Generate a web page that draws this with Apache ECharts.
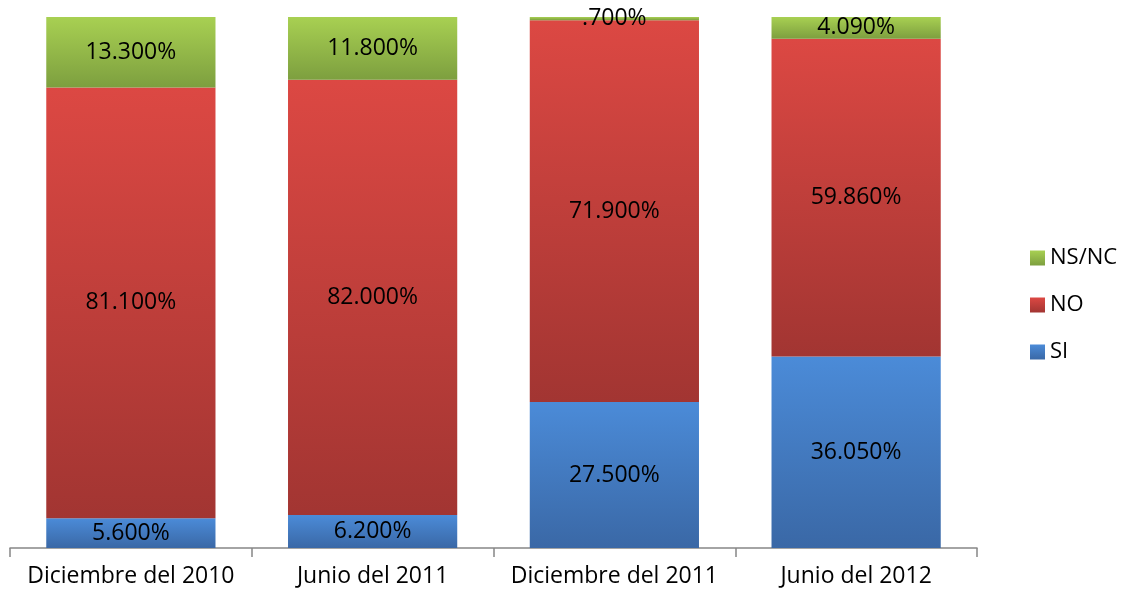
<!DOCTYPE html>
<html>
<head>
<meta charset="utf-8">
<script src="https://cdn.jsdelivr.net/npm/echarts@6/dist/echarts.min.js"></script>
<style>
html, body { margin: 0; padding: 0; background: #fff; }
#chart-0 { width: 1123px; height: 594px; }
</style>
</head>
<body>
<div id="chart-0"></div>
<script>
var categories = ['Diciembre del 2010', 'Junio del 2011', 'Diciembre del 2011', 'Junio del 2012'];
var siValues = [5.6, 6.2, 27.5, 36.05];
var noValues = [81.1, 82.0, 71.9, 59.86];
var nsncValues = [13.3, 11.8, 0.7, 4.09];

var chart = echarts.init(document.getElementById('chart-0'));

function grad(top, bottom) {
    return new echarts.graphic.LinearGradient(0, 0, 0, 1, [
        { offset: 0, color: top },
        { offset: 1, color: bottom }
    ]);
}

function pct(p) {
    return p.value.toFixed(3).replace(/^0\./, '.') + '%';
}

var labelStyle = {
    show: true,
    position: 'inside',
    formatter: pct,
    fontSize: 23,
    color: '#000',
    fontFamily: 'Open Sans'
};

var SeriesItem = function(name, data, top, bottom) {
    return {
        name: name,
        type: 'bar',
        stack: 'total',
        barCategoryGap: '30%',
        data: data,
        itemStyle: { color: grad(top, bottom) },
        label: labelStyle,
        emphasis: { disabled: true }
    };
};

var option = {
    animation: false,
    grid: { left: 10, right: 146, top: 17, bottom: 46, containLabel: false },
    legend: {
        orient: 'vertical',
        left: 1025,
        top: 242,
        itemWidth: 15,
        itemHeight: 15,
        itemGap: 25,
        icon: 'rect',
        data: ['NS/NC', 'NO', 'SI'],
        textStyle: { fontSize: 22, color: '#000', fontFamily: 'Open Sans', padding: [0, 0, 0, 0] }
    },
    xAxis: {
        type: 'category',
        data: categories,
        axisLine: { lineStyle: { color: '#868686', width: 1.5 } },
        axisTick: { show: true, interval: 0, length: 9, alignWithLabel: false, lineStyle: { color: '#868686', width: 1.5 } },
        axisLabel: { interval: 0, hideOverlap: false, fontSize: 23, color: '#000', margin: 17, fontFamily: 'Open Sans' }
    },
    yAxis: {
        type: 'value',
        min: 0,
        max: 100,
        show: false,
        splitLine: { show: false }
    },
    series: [
        new SeriesItem('SI', siValues, '#4b8bd8', '#3a68a6'),
        new SeriesItem('NO', noValues, '#dc4843', '#a23532'),
        new SeriesItem('NS/NC', nsncValues, '#a8d052', '#7d9f3f')
    ]
};
chart.setOption(option);
</script>
</body>
</html>
